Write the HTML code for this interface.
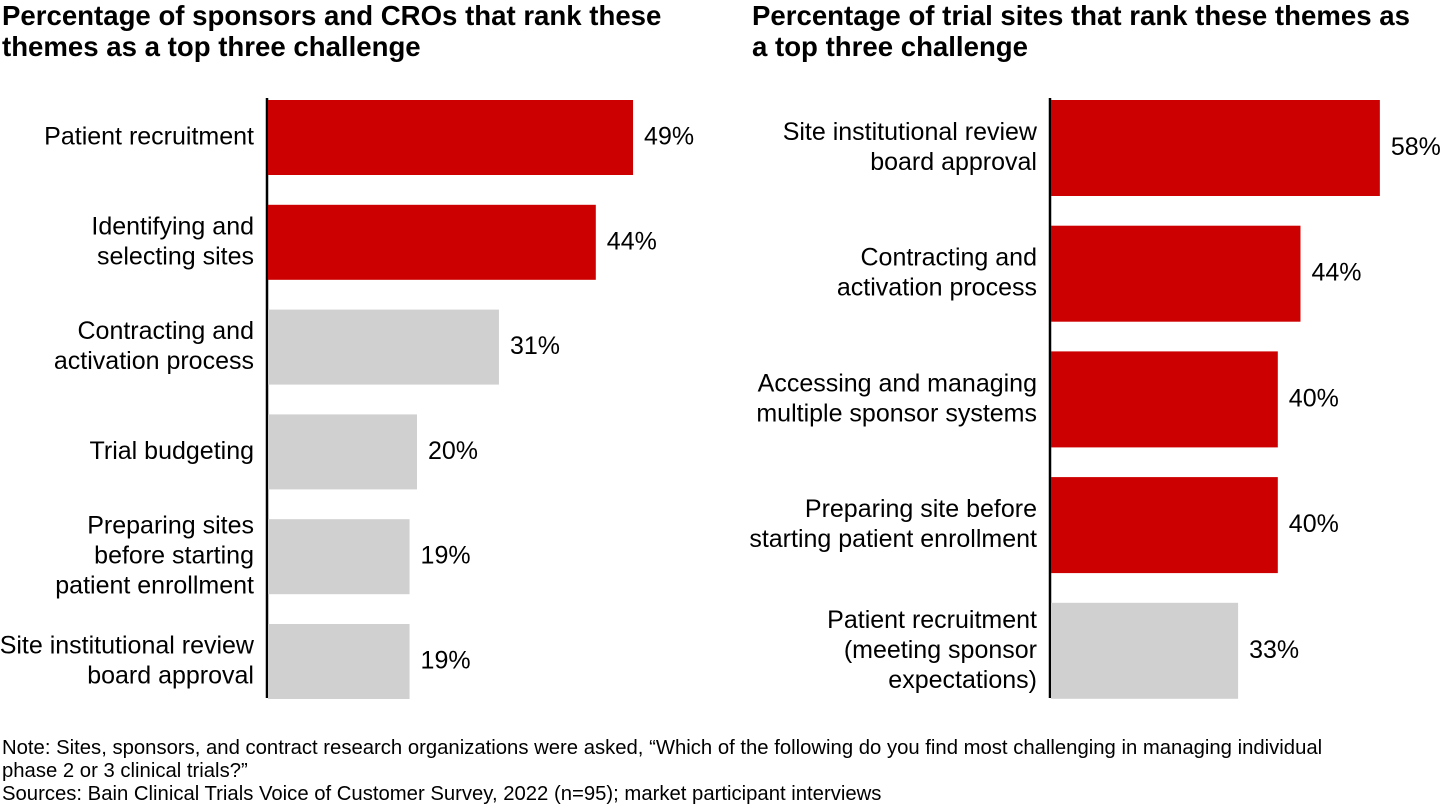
<!DOCTYPE html>
<html><head><meta charset="utf-8">
<style>
body{margin:0;width:1440px;height:810px;background:#fff;font-family:"Liberation Sans",Arial,sans-serif;color:#000;position:relative;overflow:hidden}
.title{position:absolute;top:0px;font-weight:bold;font-size:27.6px;line-height:31px;white-space:nowrap}
.note{position:absolute;left:2px;font-size:20.3px;line-height:23px;white-space:nowrap}
svg text{font-family:"Liberation Sans",Arial,sans-serif;font-size:25px}
</style></head>
<body>
<div class="title" style="left:2px">Percentage of sponsors and CROs that rank these<br>themes as a top three challenge</div>
<div class="title" style="left:752px">Percentage of trial sites that rank these themes as<br>a top three challenge</div>
<svg id="chart" width="1440" height="810" style="position:absolute;left:0;top:0"></svg>
<div class="note" style="top:737px">Note: Sites, sponsors, and contract research organizations were asked, “Which of the following do you find most challenging in managing individual<br>phase 2 or 3 clinical trials?”<br>Sources: Bain Clinical Trials Voice of Customer Survey, 2022 (n=95); market participant interviews</div>
<script>
const leftCategories=[["Patient recruitment"],["Identifying and","selecting sites"],["Contracting and","activation process"],["Trial budgeting"],["Preparing sites","before starting","patient enrollment"],["Site institutional review","board approval"]];
const leftValues=[49,44,31,20,19,19];
const leftHighlight=[true,true,false,false,false,false];
const rightCategories=[["Site institutional review","board approval"],["Contracting and","activation process"],["Accessing and managing","multiple sponsor systems"],["Preparing site before","starting patient enrollment"],["Patient recruitment","(meeting sponsor","expectations)"]];
const rightValues=[58,44,40,40,33];
const rightHighlight=[true,true,true,true,false];
const NS="http://www.w3.org/2000/svg";
const svg=document.getElementById('chart');
function mk(t,a){const e=document.createElementNS(NS,t);for(const k in a)e.setAttribute(k,a[k]);svg.appendChild(e);return e;}
function draw(side,cats,vals,hl,x0,pxPer,top,slot,barH){
  const ax=mk('line',{x1:x0,x2:x0,y1:top-2,y2:698,stroke:'#000','stroke-width':2.5});
  
  
  cats.forEach((lines,i)=>{
    const y=top+i*slot, w=vals[i]*pxPer, cy=y+barH/2;
    const r=mk('rect',{x:x0+1,y:y,width:w,height:barH,fill:hl[i]?'#cc0000':'#d0d0d0'});
    
    
    const v=mk('text',{x:x0+w+12,y:cy+7});
    v.textContent=vals[i]+'%';
    
    
    const n=lines.length, lh=30;
    lines.forEach((s,j)=>{
      const t=mk('text',{x:x0-13,y:cy+7+(j-(n-1)/2)*lh,'text-anchor':'end'});
      t.textContent=s;
      
      
    });
  });
}
draw('left',leftCategories,leftValues,leftHighlight,267,7.45,100,104.8,75);
draw('right',rightCategories,rightValues,rightHighlight,1050,5.67,100,125.7,96);
</script>
</body></html>
